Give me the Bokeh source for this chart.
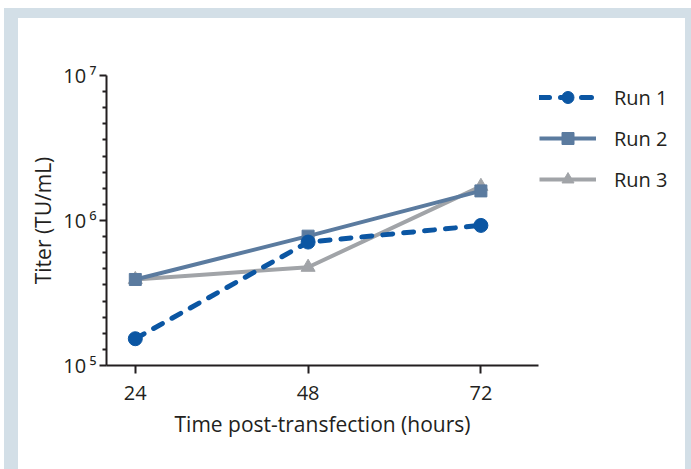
from bokeh.plotting import figure
from bokeh.layouts import row
from bokeh.models import Range1d, FixedTicker, Legend, LegendItem
from bokeh.embed import file_html
from bokeh.resources import INLINE

# ---- data ----
hours = [24, 48, 72]
run1 = [1.53e5, 7.1e5, 9.25e5]
run2 = [3.92e5, 7.8e5, 1.6e6]
run3 = [3.92e5, 4.76e5, 1.72e6]
series_names = ["Run 1", "Run 2", "Run 3"]
x_ticks = [24, 48, 72]
y_major = [1e5, 1e6, 1e7]
y_labels = {100000: "10\u2009\u2075", 1000000: "10\u2009\u2076", 10000000: "10\u2009\u2077"}

FONT = "Open Sans"
TXT = "#231f20"
C1, C2, C3 = "#0b56a3", "#5b7b9f", "#a1a4a8"
BAND = "#d3dfe7"

W_MAIN, W_LEG, H = 521, 146, 451
p = figure(width=W_MAIN, height=H, output_backend="svg", toolbar_location=None,
           y_axis_type="log", x_range=Range1d(20, 80), y_range=Range1d(1e5, 1e7),
           min_border_left=88, min_border_top=57, min_border_right=1,
           min_border_bottom=104)
p.border_fill_color = "white"
p.background_fill_color = None
p.outline_line_color = None
p.grid.visible = False

# minor ticks evenly spaced in log space (as in the reference)
minor = [10 ** (e + k / 9) for e in (5, 6) for k in range(1, 9)]
p.yaxis.ticker = FixedTicker(ticks=y_major, minor_ticks=minor)
p.yaxis.major_label_overrides = y_labels
p.xaxis.ticker = FixedTicker(ticks=x_ticks, minor_ticks=[])

for ax in (p.xaxis[0], p.yaxis[0]):
    ax.axis_line_width = 2
    ax.axis_line_color = TXT
    ax.major_tick_line_width = 2
    ax.minor_tick_line_width = 2
    ax.major_tick_line_color = TXT
    ax.minor_tick_line_color = TXT
    ax.major_tick_in = 0
    ax.minor_tick_in = 0
    ax.major_label_text_font = FONT
    ax.major_label_text_font_size = "20px"
    ax.major_label_text_color = TXT
    ax.axis_label_text_font = FONT
    ax.axis_label_text_font_size = "21px"
    ax.axis_label_text_font_style = "normal"
    ax.axis_label_text_color = TXT

p.yaxis.major_tick_out = 7
p.yaxis.minor_tick_out = 4
p.yaxis.major_label_standoff = 3
p.yaxis.axis_label = "Titer (TU/mL)"
p.yaxis.axis_label_standoff = 3
p.xaxis.major_tick_out = 8
p.xaxis.major_label_standoff = 12
p.xaxis.axis_label = "Time post-transfection (hours)"
p.xaxis.axis_label_standoff = 7

p.line(hours, run3, line_color=C3, line_width=4)
p.scatter(hours, run3, marker="triangle", size=14, fill_color=C3, line_color=C3)
p.line(hours, run2, line_color=C2, line_width=4)
p.scatter(hours, run2, marker="square", size=12, fill_color=C2, line_color=C2)
p.line(hours, run1, line_color=C1, line_width=5, line_dash="10 11", line_cap="round")
p.scatter(hours, run1, marker="circle", size=14, fill_color=C1, line_color=C1)

# ---- legend panel (separate canvas so nothing is clipped) ----
# its ranges are set away from the data so only the legend keys show
q = figure(width=W_LEG, height=H, output_backend="svg", toolbar_location=None,
           min_border=0, x_range=Range1d(-2, -1), y_range=Range1d(-2, -1))
q.border_fill_color = "white"
q.background_fill_color = None
q.outline_line_color = None
q.axis.visible = False
q.grid.visible = False
styles = [(C1, 5, "10 11", "circle", 14), (C2, 4, "solid", "square", 12),
          (C3, 4, "solid", "triangle", 14)]
items = []
for name, ys, (c, lw, dash, mk, sz) in zip(series_names, [run1, run2, run3], styles):
    lr = q.line(hours, ys, line_color=c, line_width=lw, line_dash=dash,
                line_cap="round" if dash != "solid" else "butt")
    sr = q.scatter(hours, ys, marker=mk, size=sz, fill_color=c, line_color=c)
    items.append(LegendItem(label=name, renderers=[lr, sr]))

legend = Legend(items=items, location=(0, 171))
legend.glyph_width = 57
legend.glyph_height = 30
legend.label_height = 30
legend.spacing = 11
legend.padding = 0
legend.margin = 0
legend.label_standoff = 18
legend.border_line_color = None
legend.background_fill_alpha = 0
legend.label_text_font = FONT
legend.label_text_font_size = "20px"
legend.label_text_color = TXT
q.add_layout(legend)

layout = row(p, q, styles={"background-color": "white"})
html = file_html(layout, INLINE)
style = ("<style>html{background:#ffffff;}"
         "body{background:%s;margin:8px 0 0 4px !important;"
         "padding:10px 6px 0 14px;overflow:hidden;}</style></head>" % BAND)
html = html.replace("</head>", style, 1)
open("out.html", "w").write(html)
